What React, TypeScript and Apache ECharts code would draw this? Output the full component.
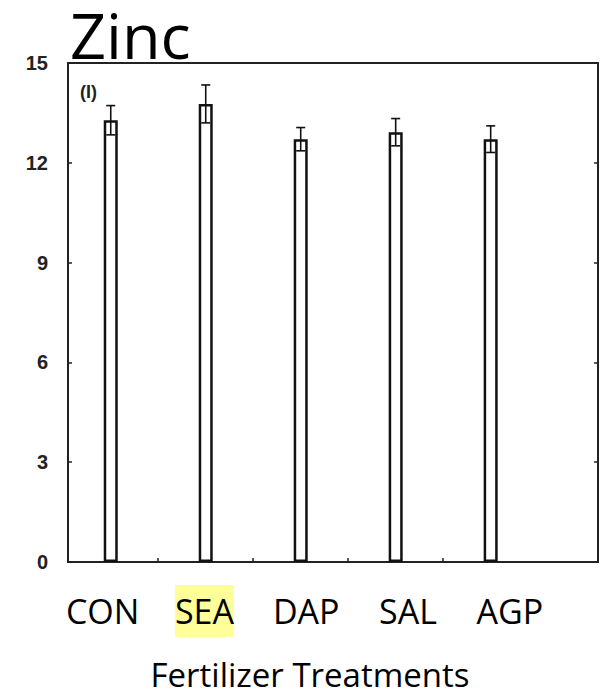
import React, { useEffect, useRef } from "react";
import * as echarts from "echarts";

const categories = ["CON", "SEA", "DAP", "SAL", "AGP"];
const means = [13.28, 13.77, 12.71, 12.92, 12.71];
const errors = [0.44, 0.57, 0.35, 0.41, 0.4];
const yTicks = [0, 3, 6, 9, 12, 15];
const highlighted = "SEA";
const chartTitle = "Zinc";
const panelLabel = "(I)";
const xTitle = "Fertilizer Treatments";

export default function App() {
  const ref = useRef<HTMLDivElement>(null);
  useEffect(() => {
    if (!ref.current) return;
    const chart = echarts.init(ref.current, null, { renderer: "svg" });
    const barData = means.map((m, i) => [i, m]);
    const errData = means.map((m, i) => [i, m - errors[i], m + errors[i]]);
    const boundaries = categories.slice(1).map((_, i) => i + 0.5);
    chart.setOption({
      animation: false,
      backgroundColor: "#fff",
      grid: {
        left: 68,
        top: 63,
        width: 530,
        height: 499,
        show: true,
        borderColor: "#222",
        borderWidth: 2,
        backgroundColor: "transparent",
      },
      xAxis: [
        {
          type: "value",
          min: -0.45,
          max: 5.13,
          position: "bottom",
          axisLine: { show: true, onZero: false, lineStyle: { color: "#222", width: 2 } },
          axisTick: {
            show: true,
            inside: true,
            length: 4,
            customValues: boundaries,
            lineStyle: { color: "#222", width: 1.5 },
          },
          axisLabel: { show: false },
          splitLine: { show: false },
        },
        {
          type: "value",
          min: -0.34,
          max: 4.866,
          position: "bottom",
          axisLine: { show: false, onZero: false },
          axisTick: { show: false },
          splitLine: { show: false },
          axisLabel: {
            show: true,
            customValues: categories.map((_, i) => i),
            margin: 23,
            fontFamily: "Open Sans",
            fontSize: 34,
            color: "#000",
            lineHeight: 52,
            formatter: (v: number) => {
              const c = categories[Math.round(v)];
              return c === highlighted ? `{hl|${c}}` : `{n|${c}}`;
            },
            rich: {
              n: { fontFamily: "Open Sans", fontSize: 34, color: "#000", lineHeight: 52 },
              hl: {
                fontFamily: "Open Sans",
                fontSize: 34,
                color: "#000",
                lineHeight: 52,
                height: 52,
                backgroundColor: "#FFFF99",
              },
            },
          },
        },
      ],
      yAxis: [
        {
          type: "value",
          min: 0,
          max: 15,
          interval: 3,
          position: "left",
          axisLine: { show: true, onZero: false, lineStyle: { color: "#222", width: 2 } },
          axisTick: { show: true, inside: true, length: 4, lineStyle: { color: "#222", width: 1.5 } },
          axisLabel: {
            margin: 20,
            fontFamily: "Liberation Sans",
            fontWeight: "bold",
            fontSize: 20,
            color: "#222",
            customValues: yTicks,
          },
          splitLine: { show: false },
        },
        {
          type: "value",
          min: 0,
          max: 15,
          interval: 3,
          position: "right",
          axisLine: { show: true, onZero: false, lineStyle: { color: "#222", width: 2 } },
          axisTick: { show: true, inside: true, length: 4, lineStyle: { color: "#222", width: 1.5 } },
          axisLabel: { show: false },
          splitLine: { show: false },
        },
      ],
      series: [
        {
          type: "bar",
          xAxisIndex: 0,
          yAxisIndex: 0,
          barWidth: 14,
          data: barData,
          itemStyle: { color: "#fff", borderColor: "#111", borderWidth: 2.5 },
        },
        {
          type: "custom",
          xAxisIndex: 0,
          yAxisIndex: 0,
          data: errData,
          z: 5,
          renderItem: (params: any, api: any) => {
            const x = api.value(0);
            const lo = api.coord([x, api.value(1)]);
            const hi = api.coord([x, api.value(2)]);
            const hw = 4.5;
            const style = { stroke: "#111", lineWidth: 1.6 };
            return {
              type: "group",
              children: [
                { type: "line", shape: { x1: hi[0], y1: hi[1], x2: lo[0], y2: lo[1] }, style },
                { type: "line", shape: { x1: hi[0] - hw, y1: hi[1], x2: hi[0] + hw, y2: hi[1] }, style },
                { type: "line", shape: { x1: lo[0] - hw, y1: lo[1], x2: lo[0] + hw, y2: lo[1] }, style },
              ],
            };
          },
        },
      ],
      graphic: [
        {
          type: "text",
          x: 70,
          y: 34,
          style: {
            text: chartTitle,
            fontFamily: "Open Sans",
            fontSize: 63,
            lineHeight: 64,
            fill: "#000",
            verticalAlign: "middle",
            align: "left",
          },
        },
        {
          type: "text",
          x: 80,
          y: 92,
          style: {
            text: panelLabel,
            fontFamily: "Liberation Sans",
            fontWeight: "bold",
            fontSize: 18,
            fill: "#222",
            verticalAlign: "middle",
            align: "left",
          },
        },
        {
          type: "text",
          x: 310,
          y: 674,
          style: {
            text: xTitle,
            fontFamily: "Open Sans",
            fontSize: 33,
            fill: "#000",
            align: "center",
            verticalAlign: "middle",
          },
        },
      ],
    });
    return () => chart.dispose();
  }, []);
  return <div ref={ref} style={{ width: 616, height: 695, position: "absolute", left: 0, top: 0 }} />;
}
